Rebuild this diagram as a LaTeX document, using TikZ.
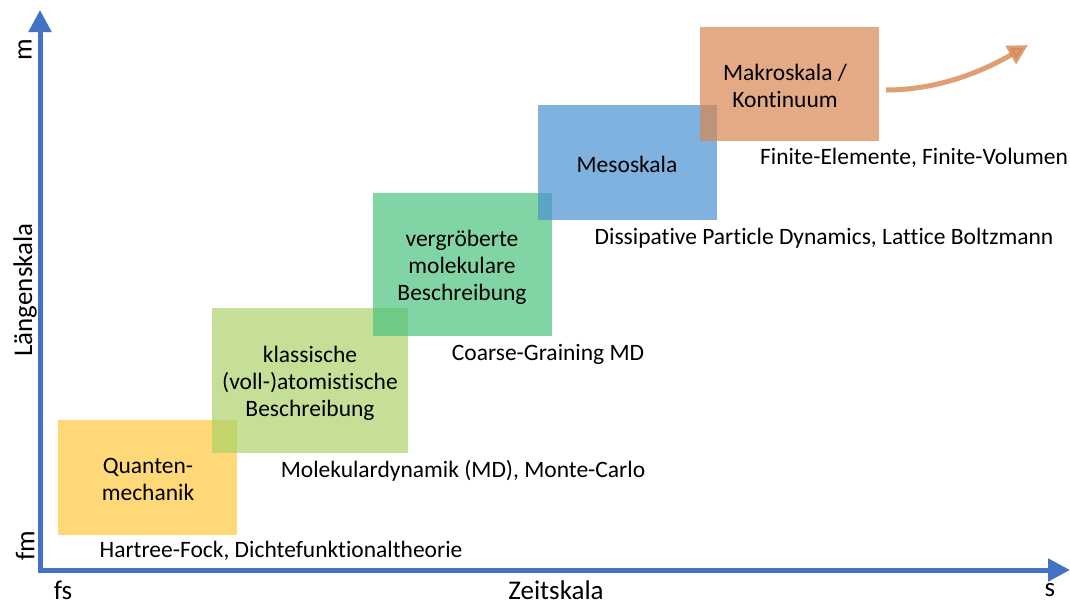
\documentclass[tikz,border=0pt]{standalone}
\usepackage{fontspec}
\setmainfont[Ligatures=NoCommon]{Carlito}
\usetikzlibrary{arrows.meta}
\definecolor{axisblue}{RGB}{68,114,196}
\definecolor{cyellow}{RGB}{255,201,62}
\definecolor{clgreen}{RGB}{172,211,105}
\definecolor{cgreen}{RGB}{76,194,125}
\definecolor{cblue}{RGB}{74,145,211}
\definecolor{corange}{RGB}{216,134,82}
\begin{document}
\begin{tikzpicture}[x=1pt,y=-1pt,
  scalebox/.style={fill opacity=0.7, draw=none},
  boxtext/.style={align=center, font=\fontsize{23.5}{27}\selectfont, text=black, inner sep=0pt},
  methtext/.style={font=\fontsize{23.5}{27}\selectfont, text=black, inner sep=0pt},
  axistext/.style={font=\fontsize{27}{30}\selectfont, text=black, inner sep=0pt},
  axis/.style={draw=axisblue, line width=5pt, -{Triangle[length=22pt,width=22pt]}}]
\useasboundingbox (0,0) rectangle (1070,605);
% boxes
\fill[cyellow,scalebox] (58,420) rectangle (237,535);
\fill[clgreen,scalebox] (212,308) rectangle (408,453);
\fill[cgreen,scalebox] (373,193) rectangle (552,336);
\fill[cblue,scalebox] (538,105) rectangle (717,220);
\fill[corange,scalebox] (700,27) rectangle (879,141);
% box texts
\node[boxtext] (q) at (148,479) {Quanten-\\mechanik};
\node[boxtext] (k) at (310,383) {klassische\\(voll-)atomistische\\Beschreibung};
\node[boxtext] (v) at (462,267) {vergröberte\\molekulare\\Beschreibung};
\node[boxtext] (me) at (627,164) {Mesoskala};
\node[boxtext] (ma) at (785,86) {Makroskala /\\Kontinuum};
% method texts
\node[methtext] (hf) at (281,551) {Hartree-Fock, Dichtefunktionaltheorie};
\node[methtext] (md) at (463,471) {Molekulardynamik (MD), Monte-Carlo};
\node[methtext] (cg) at (548,354) {Coarse-Graining MD};
\node[methtext] (dpd) at (824,238) {Dissipative Particle Dynamics, Lattice Boltzmann};
\node[methtext] (fe) at (914,158) {Finite-Elemente, Finite-Volumen};
% axes
\coordinate (ytop) at (40,10);
\coordinate (xend) at (1070,570);
\draw[axis] (40,572.5) -- (ytop);
\draw[axis] (37.5,570) -- (xend);
% axis labels
\node[axistext, rotate=90] (m) at (25,50) {m};
\node[axistext, rotate=90] (fm) at (25,546) {fm};
\node[axistext, rotate=90] (ls) at (25,290) {Längenskala};
\node[axistext] (fs) at (63,590) {fs};
\node[axistext] (zs) at (556,590) {Zeitskala};
\node[axistext] (s) at (1050,590) {s};
% curved arrow
\coordinate (ca1) at (886,90);
\coordinate (ca2) at (1028,45);
\draw[corange, opacity=0.8, line width=5pt, -{Triangle[length=20pt,width=20pt]}] (ca1) .. controls (940,90) and (985,70) .. (ca2);
\end{tikzpicture}
\end{document}
